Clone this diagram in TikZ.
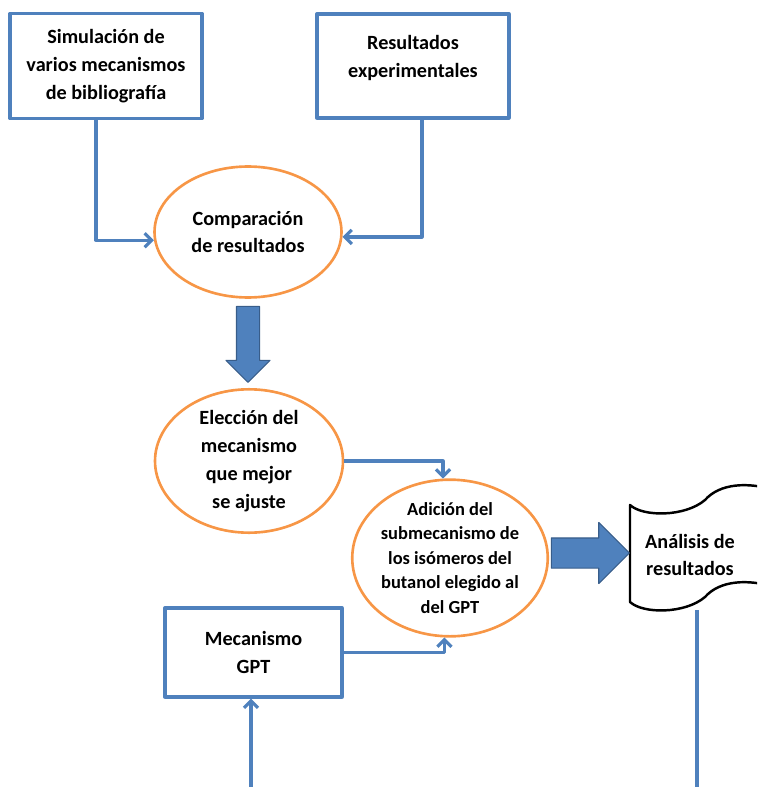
\documentclass[tikz,border=0pt]{standalone}
\usepackage{fontspec}
\setmainfont{Carlito}
\usetikzlibrary{arrows.meta,shapes.geometric,shapes.arrows}
\definecolor{azul}{HTML}{4F81BD}
\definecolor{azulosc}{HTML}{385D8A}
\definecolor{naranja}{HTML}{F79646}
\tikzset{
	rotulo/.style={align=center,inner sep=0pt,font=\bfseries\fontsize{11.5}{15.9}\selectfont},
	caja/.style={rotulo,draw=azul,line width=1.9pt},
	elipse/.style={rotulo,ellipse,draw=naranja,line width=1.5pt},
	flecha/.style={draw=azul,line width=1.8pt,-{Straight Barb[length=4pt,width=8pt]}},
	linea/.style={draw=azul,line width=1.8pt},
	gruesa/.style={single arrow,fill=azul,draw=azulosc,line width=0.6pt,inner xsep=0pt,single arrow tip angle=90}
}
\begin{document}
\begin{tikzpicture}[x=0.02cm,y=-0.02cm,line join=round]
		\clip (0,0) rectangle (757,787) ;
		\node[caja,minimum width=3.84cm,minimum height=2.1cm] (sim) at (106,66) {Simulación de\\varios mecanismos\\de bibliografía} ;
		\node[caja,minimum width=3.84cm,minimum height=2.08cm,label={[rotulo,yshift=0.16cm]center:Resultados\\experimentales}] (exp) at (413,66) {} ;
		\node[elipse,minimum width=3.74cm,minimum height=2.62cm] (comp) at (248,232) {Comparación\\de resultados} ;
		\node[elipse,minimum width=3.76cm,minimum height=2.84cm] (elec) at (249,461) {Elección del\\mecanismo\\que mejor\\se ajuste} ;
		\node[elipse,minimum width=3.82cm,minimum height=2.66cm,font=\bfseries\fontsize{10.5}{13.9}\selectfont] (adic) at (450,558) {Adición del\\submecanismo de\\los isómeros del\\butanol elegido al\\del GPT} ;
		\node[caja,minimum width=3.54cm,minimum height=1.78cm] (mec) at (253.5,652.5) {Mecanismo\\GPT} ;
		\filldraw[line width=1.4pt,fill=white] (630,505) .. controls (643,517) and (685,517) .. (705,500) .. controls (720,483) and (748,482) .. (775,490) -- (775,587) .. controls (748,579) and (720,580) .. (705,597) .. controls (685,614) and (643,614) .. (630,602) -- cycle ;
		\node[rotulo] (ana) at (690,555) {Análisis de\\resultados} ;
		\coordinate (docw) at (630,553) ; \coordinate (sale) at (697,610) ;
		\coordinate (fin) at (697,787) ; \coordinate (entra) at (251,787) ;
		\draw[flecha] ([xshift=-0.2cm]sim.south) |- (comp.185) ;
		\draw[flecha] ([xshift=0.18cm]exp.south) |- (comp.-3) ;
		\draw[flecha] (elec.east) -| (adic.95) ;
		\draw[flecha] (mec.east) -| (adic.-94) ;
		\draw[flecha] (entra) -- (entra |- mec.south) ;
		\draw[linea] (sale) -- (fin) ;
		\node[gruesa,rotate=-90,anchor=tail,inner ysep=0.22cm,single arrow head extend=0.21cm,minimum height=1.52cm] (baja) at ([yshift=-0.14cm]comp.south) {} ;
		\node[gruesa,anchor=tip,inner ysep=0.29cm,single arrow head extend=0.31cm,minimum height=1.56cm] (pasa) at (docw) {} ;
	\end{tikzpicture}
\end{document}
